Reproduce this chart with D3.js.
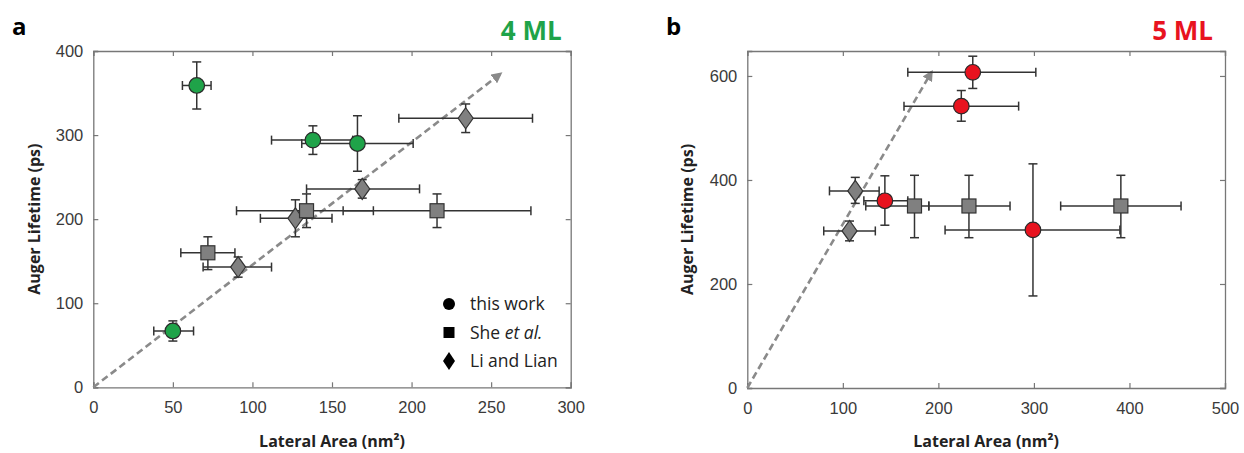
<!DOCTYPE html>
<html><head><meta charset="utf-8">
<script src="https://cdn.jsdelivr.net/npm/d3@7"></script>
<style>
body{margin:0;background:#fff;}
svg{display:block;font-family:"Open Sans","Noto Sans",sans-serif;}
</style></head>
<body><svg id="c" width="1244" height="453"></svg>
<script>
// ---------- Panel a (4 ML) ----------
const aXTicks = [0,50,100,150,200,250,300];
const aYTicks = [0,100,200,300,400];
// this work
const aWorkX   = [65,138,166,50];
const aWorkY   = [359,294,290,67];
const aWorkXLo = [56,112,131,38];
const aWorkXHi = [74,163,201,63];
const aWorkYLo = [331,277,257,55];
const aWorkYHi = [387,311,323,79];
// She et al.
const aSheX   = [72,134,216];
const aSheY   = [160,210,210];
const aSheXLo = [55,90,157];
const aSheXHi = [89,176,275];
const aSheYLo = [140,190,190];
const aSheYHi = [179,230,230];
// Li and Lian
const aLiX   = [91,127,169,234];
const aLiY   = [143,201,236,320];
const aLiXLo = [69,105,134,192];
const aLiXHi = [112,150,205,276];
const aLiYLo = [131,179,225,303];
const aLiYHi = [155,223,247,337];
const aArrow = [[0,0],[256,373]];

// ---------- Panel b (5 ML) ----------
const bXTicks = [0,100,200,300,400,500];
const bYTicks = [0,200,400,600];
const bWorkX   = [236,224,144,299];
const bWorkY   = [607,542,360,304];
const bWorkXLo = [168,164,122,207];
const bWorkXHi = [302,284,168,390];
const bWorkYLo = [576,513,313,177];
const bWorkYHi = [638,572,408,431];
const bSheX   = [175,232,391];
const bSheY   = [350,350,350];
const bSheXLo = [124,190,328];
const bSheXHi = [190,275,454];
const bSheYLo = [289,289,289];
const bSheYHi = [409,409,409];
const bLiX   = [113,107];
const bLiY   = [379,302];
const bLiXLo = [86,80];
const bLiXHi = [138,134];
const bLiYLo = [355,283];
const bLiYHi = [405,321];
const bArrow = [[0,0],[193,608]];

const legendLabels = ["this work","She et al.","Li and Lian"];

const svg = d3.select("#c");
const defs = svg.append("defs");
defs.append("marker").attr("id","arr").attr("viewBox","0 0 10 10")
  .attr("refX",8).attr("refY",5).attr("markerWidth",4.2).attr("markerHeight",4.2)
  .attr("markerUnits","strokeWidth").attr("orient","auto")
  .append("path").attr("d","M0,0 L10,5 L0,10 Z").attr("fill","#8a8a8a");

const GRAY="#808080", EDGE="#333", ERR="#333";

function panel(o){
  const x = d3.scaleLinear().domain(o.xd).range([o.l,o.r]);
  const y = d3.scaleLinear().domain(o.yd).range([o.b,o.t]);
  const g = svg.append("g");
  const axCol="#777";
  g.append("g").attr("transform",`translate(0,${o.b})`)
    .call(d3.axisBottom(x).tickValues(o.xt).tickSize(-5).tickPadding(14).tickFormat(d3.format("d")));
  g.append("g").attr("transform",`translate(0,${o.t})`)
    .call(d3.axisTop(x).tickValues(o.xt).tickSize(-5).tickFormat(""));
  g.append("g").attr("transform",`translate(${o.l},0)`)
    .call(d3.axisLeft(y).tickValues(o.yt).tickSize(-5).tickPadding(10).tickFormat(d3.format("d")));
  g.append("g").attr("transform",`translate(${o.r},0)`)
    .call(d3.axisRight(y).tickValues(o.yt).tickSize(-5).tickFormat(""));
  g.selectAll(".domain").attr("stroke",axCol).attr("stroke-width",1.3);
  g.selectAll(".tick line").attr("stroke",axCol).attr("stroke-width",1.2);
  g.selectAll(".tick text").attr("fill","#3a3a3a").attr("font-size",16.5);
  g.append("text").attr("x",(o.l+o.r)/2).attr("y",447).attr("text-anchor","middle")
    .attr("font-weight","bold").attr("font-size",16).attr("fill","#222").text("Lateral Area (nm²)");
  g.append("text").attr("transform",`translate(${o.yl},${(o.t+o.b)/2}) rotate(-90)`)
    .attr("text-anchor","middle").attr("font-weight","bold").attr("font-size",16).attr("fill","#222")
    .text("Auger Lifetime (ps)");
  g.append("text").attr("x",o.lx).attr("y",35).attr("font-weight","bold").attr("font-size",24).attr("fill","#000").text(o.letter);
  g.append("text").attr("x",o.r-o.lr).attr("y",40).attr("text-anchor","end").attr("font-weight","bold")
    .attr("font-size",26).attr("fill",o.col).text(o.label);
  g.append("line").attr("x1",x(o.arrow[0][0])).attr("y1",y(o.arrow[0][1]))
    .attr("x2",x(o.arrow[1][0])).attr("y2",y(o.arrow[1][1]))
    .attr("stroke","#8a8a8a").attr("stroke-width",2.6).attr("stroke-dasharray","7,4")
    .attr("marker-end","url(#arr)");
  const cap=4.5;
  function errs(X,Y,XL,XH,YL,YH){
    const eg=g.append("g").attr("stroke",ERR).attr("stroke-width",1.5).attr("fill","none");
    X.forEach((xv,i)=>{
      const px=x(xv), py=y(Y[i]);
      eg.append("line").attr("x1",x(XL[i])).attr("x2",x(XH[i])).attr("y1",py).attr("y2",py);
      eg.append("line").attr("x1",x(XL[i])).attr("x2",x(XL[i])).attr("y1",py-cap).attr("y2",py+cap);
      eg.append("line").attr("x1",x(XH[i])).attr("x2",x(XH[i])).attr("y1",py-cap).attr("y2",py+cap);
      eg.append("line").attr("x1",px).attr("x2",px).attr("y1",y(YL[i])).attr("y2",y(YH[i]));
      eg.append("line").attr("x1",px-cap).attr("x2",px+cap).attr("y1",y(YL[i])).attr("y2",y(YL[i]));
      eg.append("line").attr("x1",px-cap).attr("x2",px+cap).attr("y1",y(YH[i])).attr("y2",y(YH[i]));
    });
  }
  errs(o.li[0],o.li[1],o.li[2],o.li[3],o.li[4],o.li[5]);
  errs(o.she[0],o.she[1],o.she[2],o.she[3],o.she[4],o.she[5]);
  errs(o.work[0],o.work[1],o.work[2],o.work[3],o.work[4],o.work[5]);
  g.append("g").selectAll("path").data(o.li[0]).join("path")
    .attr("d",(d,i)=>{const px=x(d),py=y(o.li[1][i]);return `M${px},${py-10.5}L${px+7.5},${py}L${px},${py+10.5}L${px-7.5},${py}Z`;})
    .attr("fill",GRAY).attr("stroke",EDGE).attr("stroke-width",1.2);
  g.append("g").selectAll("rect").data(o.she[0]).join("rect")
    .attr("x",d=>x(d)-7).attr("y",(d,i)=>y(o.she[1][i])-7).attr("width",14).attr("height",14)
    .attr("fill",GRAY).attr("stroke",EDGE).attr("stroke-width",1.2);
  g.append("g").selectAll("circle").data(o.work[0]).join("circle")
    .attr("cx",d=>x(d)).attr("cy",(d,i)=>y(o.work[1][i])).attr("r",7.8)
    .attr("fill",o.col).attr("stroke","#2a2a2a").attr("stroke-width",1.2);
  return {x,y,g};
}

panel({xd:[0,300],yd:[0,400],l:93.3,r:570.7,t:51,b:387.3,xt:aXTicks,yt:aYTicks,yl:40,lx:12,lr:9,
  letter:"a",label:"4 ML",col:"#1fa349",arrow:aArrow,
  work:[aWorkX,aWorkY,aWorkXLo,aWorkXHi,aWorkYLo,aWorkYHi],
  she:[aSheX,aSheY,aSheXLo,aSheXHi,aSheYLo,aSheYHi],
  li:[aLiX,aLiY,aLiXLo,aLiXHi,aLiYLo,aLiYHi]});
panel({xd:[0,500],yd:[0,648],l:747.3,r:1225,t:51,b:388,xt:bXTicks,yt:bYTicks,yl:693,lx:666,lr:12,
  letter:"b",label:"5 ML",col:"#e8131f",arrow:bArrow,
  work:[bWorkX,bWorkY,bWorkXLo,bWorkXHi,bWorkYLo,bWorkYHi],
  she:[bSheX,bSheY,bSheXLo,bSheXHi,bSheYLo,bSheYHi],
  li:[bLiX,bLiY,bLiXLo,bLiXHi,bLiYLo,bLiYHi]});

// legend (panel a)
const lg = svg.append("g").attr("font-size",17.5).attr("fill","#222");
const lx = 449, ly0 = 304, ldy = 28.5;
lg.append("circle").attr("cx",lx).attr("cy",ly0).attr("r",6).attr("fill","#000");
lg.append("rect").attr("x",lx-5.5).attr("y",ly0+ldy-5.5).attr("width",11).attr("height",11).attr("fill","#000");
lg.append("path").attr("d",`M${lx},${ly0+2*ldy-9}L${lx+6},${ly0+2*ldy}L${lx},${ly0+2*ldy+9}L${lx-6},${ly0+2*ldy}Z`).attr("fill","#000");
legendLabels.forEach((t,i)=>{
  const tx = lg.append("text").attr("x",470).attr("y",ly0+i*ldy+6);
  if(t==="She et al."){
    tx.append("tspan").text("She ");
    tx.append("tspan").attr("font-style","italic").text("et al.");
  } else tx.text(t);
});
</script></body></html>
